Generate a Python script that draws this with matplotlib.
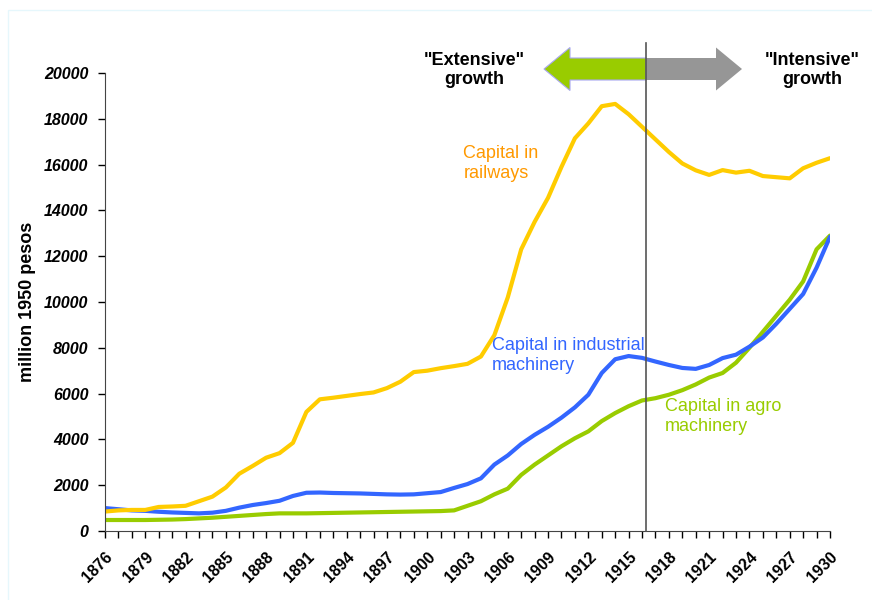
import matplotlib.pyplot as plt
from matplotlib.patches import FancyArrow, Rectangle
import numpy as np

plt.rcParams['font.family'] = ['Liberation Sans', 'DejaVu Sans']

years = list(range(1876, 1931))

railways = [850, 900, 920, 920, 1050, 1070, 1100, 1300, 1500, 1900,
            2500, 2840, 3200, 3400, 3850, 5200, 5750, 5820, 5900, 5980,
            6050, 6240, 6520, 6940, 7000, 7110, 7200, 7300, 7620, 8550,
            10200, 12300, 13500, 14550, 15900, 17150, 17800, 18550, 18650, 18200,
            17650, 17100, 16550, 16050, 15750, 15550, 15760, 15650, 15730, 15500,
            15450, 15400, 15840, 16080, 16280]

industrial = [1000, 950, 900, 880, 840, 810, 790, 770, 800, 880,
              1020, 1135, 1220, 1320, 1530, 1670, 1680, 1660, 1650, 1640,
              1620, 1600, 1590, 1600, 1650, 1700, 1880, 2050, 2300, 2900,
              3300, 3800, 4200, 4550, 4950, 5400, 5950, 6900, 7500, 7640,
              7560, 7400, 7250, 7120, 7080, 7250, 7550, 7700, 8050, 8450,
              9050, 9700, 10350, 11500, 12850]

agro = [480, 480, 480, 480, 490, 500, 520, 550, 580, 620,
        660, 700, 740, 770, 770, 770, 780, 790, 800, 810,
        820, 830, 840, 850, 860, 870, 900, 1100, 1300, 1600,
        1850, 2450, 2900, 3300, 3700, 4050, 4350, 4800, 5150, 5450,
        5700, 5800, 5950, 6150, 6400, 6700, 6900, 7350, 8000, 8700,
        9400, 10100, 10900, 12300, 12900]

yellow = '#FFCC00'
blue = '#3366FF'
green = '#99CC00'

fig = plt.figure(figsize=(8.72, 6), dpi=100)
ax = fig.add_axes([105 / 872, 69 / 600, 725 / 872, 458 / 600])

# faint frame around the slide
fig.patches.append(Rectangle((8 / 872, -0.1), 1.2, (590 / 600) + 0.1,
                             transform=fig.transFigure, fill=False,
                             edgecolor='#E6F7FC', lw=1))

ax.plot(years, agro, color=green, lw=3, solid_capstyle='round')
ax.plot(years, industrial, color=blue, lw=3, solid_capstyle='round')
ax.plot(years, railways, color=yellow, lw=3, solid_capstyle='round')

ax.set_xlim(1876, 1930)
ax.set_ylim(0, 20000)
ax.set_yticks(np.arange(0, 20001, 2000))
ax.set_yticklabels([str(v) for v in range(0, 20001, 2000)],
                   fontweight='bold', fontstyle='italic', fontsize=11.5)
ax.set_xticks(years, minor=True)
ax.set_xticks(years[::3])
ax.set_xticklabels([str(y) for y in years[::3]], rotation=45, ha='right',
                   rotation_mode='anchor', fontweight='bold', fontsize=11.5)
ax.tick_params(axis='x', which='both', direction='out', length=5, width=1, pad=8)
ax.tick_params(axis='y', direction='out', length=5, width=1, pad=7)
ax.spines['top'].set_visible(False)
ax.spines['right'].set_visible(False)
for s in ['left', 'bottom']:
    ax.spines[s].set_color('#444444')
ax.set_ylabel('million 1950 pesos', fontweight='bold', fontsize=13, labelpad=6)

# divider between extensive and intensive growth
split = 1916.3
ax.axvline(split, color='#555555', lw=1.2, ymax=1.065, clip_on=False, zorder=5)

# arrows above the plot
px_year = 725 / 54
px_val = 20000 / 458
ay = 20000 + (73 - 69) * px_val
sh = 22 * px_val
hh = 43 * px_val
hl = 26 / px_year
left_tip = 1876 + (544 - 105) / px_year
right_tip = 1876 + (742 - 105) / px_year
ax.add_patch(FancyArrow(split, ay, left_tip - split, 0,
                        width=sh, head_width=hh, head_length=hl,
                        length_includes_head=True, facecolor=green,
                        edgecolor='#A8A8F0', lw=0.8, clip_on=False))
ax.add_patch(FancyArrow(split, ay, right_tip - split, 0,
                        width=sh, head_width=hh, head_length=hl,
                        length_includes_head=True, facecolor='#969696',
                        edgecolor='none', clip_on=False))

fig.text(474 / 872, 1 - 70 / 600, '"Extensive"\ngrowth', ha='center', va='center',
         fontweight='bold', fontsize=13, linespacing=1.15)
fig.text(812 / 872, 1 - 70 / 600, '"Intensive"\ngrowth', ha='center', va='center',
         fontweight='bold', fontsize=13, linespacing=1.15)

ax.text(1902.7, 16050, 'Capital in\nrailways', color='#FF9900', fontsize=13,
        ha='left', va='center', linespacing=1.25)
ax.text(1904.8, 7650, 'Capital in industrial\nmachinery', color=blue, fontsize=13,
        ha='left', va='center', linespacing=1.25)
ax.text(1917.7, 5000, 'Capital in agro\nmachinery', color=green, fontsize=13,
        ha='left', va='center', linespacing=1.25)

fig.savefig('out.png', dpi=100)
